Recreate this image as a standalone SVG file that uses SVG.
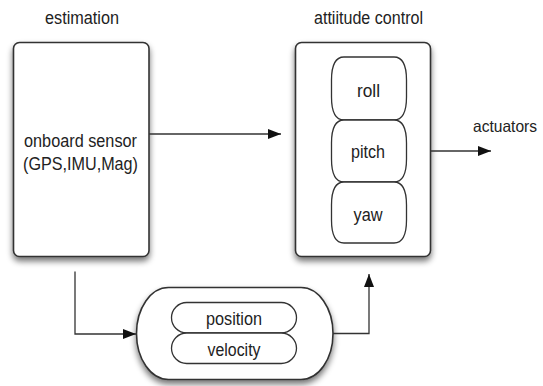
<svg xmlns="http://www.w3.org/2000/svg" width="543" height="386" viewBox="0 0 543 386">
<defs>
<filter id="sh" x="-20%" y="-20%" width="140%" height="140%">
<feGaussianBlur in="SourceAlpha" stdDeviation="3"/>
<feOffset dx="0" dy="4" result="b"/>
<feComponentTransfer><feFuncA type="linear" slope="0.55"/></feComponentTransfer>
<feMerge><feMergeNode/><feMergeNode in="SourceGraphic"/></feMerge>
</filter>
<marker id="ah" viewBox="0 0 13 10" refX="13" refY="5" markerWidth="13" markerHeight="10" markerUnits="userSpaceOnUse" orient="auto">
<path d="M0,0 L13,5 L0,10 z" fill="#111"/>
</marker>
</defs>
<style>
.box{fill:#fff;stroke:#333;stroke-width:1.6}
.pill{fill:#fff;stroke:#333;stroke-width:1.3}
.t{font-family:"Liberation Sans",Arial,sans-serif;font-size:17.5px;fill:#222;text-anchor:middle}
.c{fill:none;stroke:#333;stroke-width:1.3}
</style>
<rect width="543" height="386" fill="#fff"/>
<text class="t" x="82" y="24" textLength="74" lengthAdjust="spacingAndGlyphs">estimation</text>
<text class="t" x="368.5" y="24" textLength="109" lengthAdjust="spacingAndGlyphs">attiitude control</text>
<text class="t" x="505" y="132" style="font-size:16.5px" textLength="64" lengthAdjust="spacingAndGlyphs">actuators</text>
<g id="estimation">
<rect class="box" x="13.5" y="42.5" width="135.5" height="214" rx="6" filter="url(#sh)"/>
<text class="t" x="80.5" y="147" textLength="113" lengthAdjust="spacingAndGlyphs">onboard sensor</text>
<text class="t" x="80.5" y="170" textLength="115" lengthAdjust="spacingAndGlyphs">(GPS,IMU,Mag)</text>
</g>
<g id="attitude">
<rect class="box" x="295.5" y="42.5" width="135" height="214" rx="6" filter="url(#sh)"/>
<g id="roll"><path class="pill" d="M344,57 H394 C403,57 406.5,66 406.5,80 V97 C406.5,111 403,120 394,120 H344 C335,120 331.5,111 331.5,97 V80 C331.5,66 335,57 344,57 Z"/><text class="t" x="368.5" y="96.5" textLength="23" lengthAdjust="spacingAndGlyphs">roll</text></g>
<g id="pitch"><path class="pill" d="M344,120 H394 C403,120 406.5,129 406.5,143 V159 C406.5,173 403,182 394,182 H344 C335,182 331.5,173 331.5,159 V143 C331.5,129 335,120 344,120 Z"/><text class="t" x="368" y="157.5" textLength="34" lengthAdjust="spacingAndGlyphs">pitch</text></g>
<g id="yaw"><path class="pill" d="M344,182 H394 C403,182 406.5,191 406.5,205 V220 C406.5,234 403,243 394,243 H344 C335,243 331.5,234 331.5,220 V205 C331.5,191 335,182 344,182 Z"/><text class="t" x="368" y="220.5" textLength="29" lengthAdjust="spacingAndGlyphs">yaw</text></g>
</g>
<g id="state">
<rect class="box" x="136.5" y="287.5" width="196.5" height="92" rx="32" ry="46" filter="url(#sh)"/>
<g id="position"><rect class="pill" x="171.5" y="302.5" width="125" height="30.5" rx="15.25"/><text class="t" x="234" y="325" textLength="56" lengthAdjust="spacingAndGlyphs">position</text></g>
<g id="velocity"><rect class="pill" x="171.5" y="333" width="125" height="30.5" rx="15.25"/><text class="t" x="234" y="355.5" textLength="53" lengthAdjust="spacingAndGlyphs">velocity</text></g>
</g>
<g id="connectors">
<path class="c" d="M149,134 H281" marker-end="url(#ah)"/>
<path class="c" d="M431,151 H491" marker-end="url(#ah)"/>
<path class="c" d="M75,271.5 V334 H136" marker-end="url(#ah)"/>
<path class="c" d="M333,333.5 H369 V274" marker-end="url(#ah)"/>
</g>
</svg>
